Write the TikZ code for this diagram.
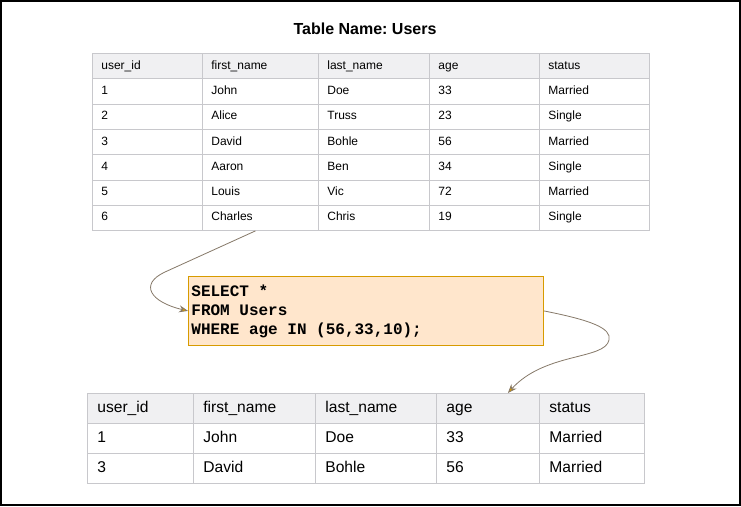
\documentclass[tikz,border=0pt]{standalone}
\usepackage{fontspec}
\setmainfont{Liberation Sans}
\setmonofont{Liberation Mono}
\usetikzlibrary{arrows.meta}
\definecolor{hdrfill}{HTML}{F0F0F2}
\definecolor{gridline}{HTML}{C8C8CC}
\definecolor{sqlfill}{HTML}{FFE6CC}
\definecolor{sqlline}{HTML}{D79B00}
\definecolor{linkline}{HTML}{857868}
\newcommand{\qs}{\hspace*{0.6em}}
\frenchspacing

\begin{document}
\begin{tikzpicture}[
        x=1pt, y=-1pt,
        cell/.style={draw=gridline, line width=0.8pt, anchor=north west, inner ysep=0pt, align=left},
        smallcell/.style={cell, inner xsep=9pt, minimum height=25.3pt, font=\fontsize{12}{14}\selectfont, text height=8.6pt, text depth=2.5pt},
        bigcell/.style={cell, inner xsep=10pt, minimum height=30pt, font=\fontsize{15.6}{18}\selectfont, text height=11.2pt, text depth=3.2pt},
        query/.style={draw=sqlline, fill=sqlfill, line width=0.8pt, anchor=north west, inner xsep=3pt, minimum height=69pt, text width=349pt, align=left, font=\ttfamily\bfseries\fontsize{16}{19}\selectfont},
        link/.style={draw=linkline, line width=0.8pt, -{Stealth[length=9pt,width=7pt,inset=3pt,color=linkline,fill=sqlline]}}
    ]
    \useasboundingbox (0,0) rectangle (741,506);
    \draw[line width=2pt] (1,1) rectangle (740,505);

    \node[font=\bfseries\fontsize{16}{19}\selectfont] (title) at (365,29) {Table Name: Users};

    % source table
    \foreach \r/\f/\a/\b/\c/\d/\e in {
            0/hdrfill/user\_id/first\_name/last\_name/age/status,
            1/white/1/John/Doe/33/Married,
            2/white/2/Alice/Truss/23/Single,
            3/white/3/David/Bohle/56/Married,
            4/white/4/Aaron/Ben/34/Single,
            5/white/5/Louis/Vic/72/Married,
            6/white/6/Charles/Chris/19/Single}
        \foreach \k/\x/\tw/\v in {1/92/92/\a, 2/202/98/\b, 3/318/93/\c, 4/429/92/\d, 5/539/92/\e}
            \node[smallcell, fill=\f, text width=\tw pt] (t-\r-\k) at (\x, 53+25.3*\r) {\v};

    \node[query] (sql) at (188,276) {SELECT\qs*\\FROM\qs Users\\WHERE\qs age\qs IN\qs (56,33,10);};

    % result table
    \foreach \r/\f/\a/\b/\c/\d/\e in {
            0/hdrfill/user\_id/first\_name/last\_name/age/status,
            1/white/1/John/Doe/33/Married,
            2/white/3/David/Bohle/56/Married}
        \foreach \k/\x/\tw/\v in {1/87/86/\a, 2/193/102/\b, 3/315/101/\c, 4/436/83/\d, 5/539/85/\e}
            \node[bigcell, fill=\f, text width=\tw pt] (b-\r-\k) at (\x, 393+30*\r) {\v};

    \draw[link] ([xshift=-5pt]t-6-2.south) -- (165,272)
        .. controls (139,284) and (150,302) .. (sql.west);
    \draw[link] (sql.east) .. controls (590,320) and (612,328) .. (609,340)
        .. controls (605,360) and (545,352) .. ([xshift=20pt]b-0-4.north);
\end{tikzpicture}
\end{document}
